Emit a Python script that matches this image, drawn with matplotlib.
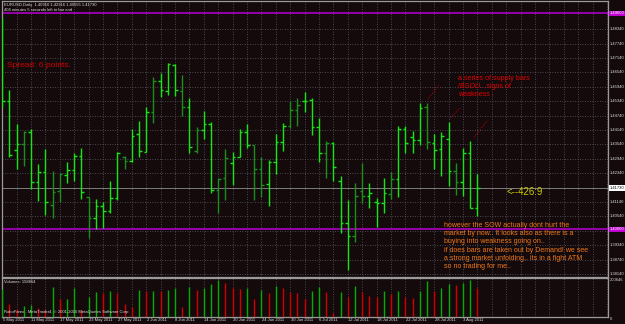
import matplotlib.pyplot as plt

# EURUSD daily bars, 5 May 2011 .. 5 Aug 2011
opens = [1.4830, 1.4537, 1.4330, 1.4356, 1.4405, 1.4196, 1.4238, 1.4100, 1.4160, 1.4227,
         1.4247, 1.4306, 1.4137, 1.4046, 1.4098, 1.4078, 1.4132, 1.4303, 1.4285, 1.4396,
         1.4324, 1.4488, 1.4617, 1.4577, 1.4685, 1.4577, 1.4509, 1.4328, 1.4414, 1.4439,
         1.4164, 1.4213, 1.4276, 1.4301, 1.4405, 1.4352, 1.4251, 1.4188, 1.4282, 1.4366,
         1.4431, 1.4498, 1.4535, 1.4539, 1.4426, 1.4317, 1.4359, 1.4202, 1.4026, 1.3973,
         1.4160, 1.4139, 1.4114, 1.4109, 1.4148, 1.4211, 1.4418, 1.4384, 1.4373, 1.4510,
         1.4361, 1.4335, 1.4376, 1.4245, 1.4199, 1.4317, 1.4091]
highs = [1.4880, 1.4583, 1.4438, 1.4410, 1.4418, 1.4271, 1.4334, 1.4243, 1.4234, 1.4282,
         1.4320, 1.4341, 1.4137, 1.4128, 1.4114, 1.4202, 1.4321, 1.4306, 1.4417, 1.4453,
         1.4512, 1.4636, 1.4653, 1.4692, 1.4688, 1.4643, 1.4546, 1.4428, 1.4494, 1.4446,
         1.4213, 1.4334, 1.4324, 1.4418, 1.4438, 1.4352, 1.4301, 1.4289, 1.4397, 1.4445,
         1.4535, 1.4546, 1.4574, 1.4549, 1.4463, 1.4369, 1.4363, 1.4223, 1.4123, 1.4192,
         1.4276, 1.4195, 1.4130, 1.4213, 1.4241, 1.4431, 1.4432, 1.4412, 1.4528, 1.4528,
         1.4396, 1.4407, 1.4446, 1.4278, 1.4338, 1.4369, 1.42316]
lows = [1.4510, 1.4303, 1.4252, 1.4266, 1.4167, 1.4119, 1.4060, 1.4046, 1.4116, 1.4192,
        1.4202, 1.4127, 1.3966, 1.4001, 1.4007, 1.4067, 1.4123, 1.4253, 1.4280, 1.4303,
        1.4321, 1.4445, 1.4553, 1.4560, 1.4556, 1.4473, 1.4320, 1.4317, 1.4376, 1.4153,
        1.4070, 1.4122, 1.4185, 1.4301, 1.4338, 1.4123, 1.4136, 1.4098, 1.4231, 1.4327,
        1.4424, 1.4432, 1.4491, 1.4394, 1.4282, 1.4216, 1.4202, 1.3984, 1.3831, 1.3949,
        1.4111, 1.4088, 1.4012, 1.4067, 1.4127, 1.4134, 1.4320, 1.4320, 1.4352, 1.4335,
        1.4251, 1.4224, 1.4181, 1.4144, 1.4139, 1.4088, 1.40555]
closes = [1.4537, 1.4312, 1.4356, 1.4406, 1.4196, 1.4238, 1.4114, 1.4155, 1.4230, 1.4247,
          1.4306, 1.4155, 1.4046, 1.4098, 1.4078, 1.4130, 1.4317, 1.4285, 1.4389, 1.4327,
          1.4488, 1.4619, 1.4580, 1.4688, 1.4580, 1.4511, 1.4345, 1.4414, 1.4439, 1.4164,
          1.4210, 1.4297, 1.4301, 1.4405, 1.4352, 1.4251, 1.4185, 1.4282, 1.4366, 1.4431,
          1.4498, 1.4519, 1.4535, 1.4426, 1.4317, 1.4359, 1.4261, 1.4026, 1.3973, 1.4139,
          1.4139, 1.4150, 1.4109, 1.4150, 1.4211, 1.4418, 1.4359, 1.4373, 1.4505, 1.4365,
          1.4331, 1.4390, 1.4245, 1.4199, 1.4317, 1.4091, 1.4173]
volumes = [150000, 68700, 40000, 57700, 63200, 45000, 35700, 160500, 94500, 96200,
           155000, 35700, 108800, 133000, 130000, 140200, 127500, 68700, 50000, 145700,
           140200, 142000, 139000, 145700, 158300, 50600, 160500, 145700, 155000, 177000,
           200600, 182500, 155000, 151200, 155000, 94500, 145700, 127500, 167700, 155000,
           136300, 130800, 94500, 140200, 160500, 133000, 20900, 136300, 108800, 167700,
           136300, 112700, 105500, 140200, 123700, 140200, 108800, 100000, 140200, 195100,
           140200, 155000, 177000, 173200, 182500, 200600, 158864]
dark_bars = [3, 7, 8, 12, 17, 21, 25, 27, 30, 31, 35, 36, 40, 41, 45, 49, 50, 54, 59, 63]

date_idx = [0, 4, 8, 12, 16, 20, 24, 28, 32, 36, 40, 44, 48, 52, 56, 60, 64]
date_labels = ["5 May 2011", "11 May 2011", "17 May 2011", "23 May 2011", "27 May 2011",
               "2 Jun 2011", "8 Jun 2011", "14 Jun 2011", "20 Jun 2011", "24 Jun 2011",
               "30 Jun 2011", "6 Jul 2011", "12 Jul 2011", "18 Jul 2011", "22 Jul 2011",
               "28 Jul 2011", "3 Aug 2011"]

grid_prices = [1.48340 - 0.006 * k for k in range(18)]
level_hi, level_lo = 1.4900, 1.4000
last_price = 1.41730
vol_max = 200646

plt.rcParams['font.family'] = ['Liberation Sans', 'DejaVu Sans']
BG = '#140a0c'
BORDER = '#9a9a9a'
GRIDC = '#5a5e66'
TXT = '#dcdcdc'
SMALL = 3.0

W, H = 625, 324
fig = plt.figure(figsize=(W / 100, H / 100), dpi=100, facecolor=BG)
ax = fig.add_axes([2 / W, 1 - 277 / H, 606 / W, 276 / H], facecolor=BG)
axv = fig.add_axes([2 / W, 1 - 316.5 / H, 606 / W, 38.5 / H], facecolor=BG)

xl = (-0.04, 84.13)
for a in (ax, axv):
    a.set_xlim(*xl)
    a.set_xticks([])
    a.set_yticks([])
    for s in a.spines.values():
        s.set_color(BORDER)
        s.set_linewidth(0.9)
ax.set_ylim(1.38018, 1.49519)
axv.set_ylim(0, 211600)

# grid
for k in range(0, 85, 2):
    ax.axvline(k, color=GRIDC, lw=0.6, ls=(0, (1, 2)), zorder=0)
    axv.axvline(k, color=GRIDC, lw=0.6, ls=(0, (1, 2)), zorder=0)
for p in grid_prices:
    ax.axhline(p, color=GRIDC, lw=0.6, ls=(0, (1, 2)), zorder=0)

# levels
ax.axhline(level_hi, color='#a000b4', lw=1.3, zorder=2)
ax.axhline(level_lo, color='#a000b4', lw=1.3, zorder=2)
ax.axhline(last_price, color='#8a8a8a', lw=0.6, zorder=1)

# price bars
n = len(opens)
idx = list(range(n))
bright = [i for i in idx if i not in dark_bars]
for group, col in ((bright, '#14e614'), (dark_bars, '#1b8f1b')):
    ax.vlines(group, [lows[i] for i in group], [highs[i] for i in group], color=col, lw=1.0, zorder=3)
    ax.hlines([opens[i] for i in group], [i - 0.36 for i in group], group, color=col, lw=1.0, zorder=3)
    ax.hlines([closes[i] for i in group], group, [i + 0.36 for i in group], color=col, lw=1.0, zorder=3)

# volumes
vcol = ['#00b000'] + ['#00b000' if volumes[i] > volumes[i - 1] else '#d00000' for i in range(1, n)]
axv.vlines(idx, 0, volumes, colors=vcol, lw=1.0, zorder=3)

# right price scale
ty = ax.get_yaxis_transform()
for p in grid_prices:
    if abs(p - last_price) < 0.003 or abs(p - level_lo) < 0.003 or abs(p - level_hi) < 0.003:
        continue
    ax.text(1.003, p, f"{p:.5f}", transform=ty, color=TXT, fontsize=SMALL, va='center', ha='left')
for p, fc, tc in ((level_hi, '#c000d0', 'white'), (level_lo, '#c000d0', 'white'), (last_price, 'white', 'black')):
    ax.text(1.003, p, f"{p:.5f}", transform=ty, color=tc, fontsize=SMALL, va='center', ha='left',
            bbox=dict(boxstyle='square,pad=0.2', fc=fc, ec='none'))
axv.text(1.003, vol_max, str(vol_max), transform=axv.get_yaxis_transform(), color=TXT,
         fontsize=SMALL, va='center', ha='left')
axv.text(1.003, 0, "0", transform=axv.get_yaxis_transform(), color=TXT,
         fontsize=SMALL, va='top', ha='left')

# dates
tx = axv.get_xaxis_transform()
for i, lab in zip(date_idx, date_labels):
    axv.text(i + 0.05, -0.1, lab, transform=tx, color=TXT, fontsize=SMALL, va='center', ha='left')

# header texts
ax.text(0.003, 0.986, "EURUSD,Daily  1.40910 1.42316 1.40555 1.41730", transform=ax.transAxes,
        color=TXT, fontsize=SMALL, va='center', ha='left')
ax.text(0.003, 0.968, "404 minutes 5 seconds left to bar end", transform=ax.transAxes,
        color=TXT, fontsize=SMALL, va='center', ha='left')
axv.text(0.003, 0.9, "Volumes: 158864", transform=axv.transAxes, color=TXT, fontsize=SMALL,
         va='center', ha='left')
axv.text(0.003, 0.12, "RoboForex - MetaTrader4, \u00a9 2001-2010 MetaQuotes Software Corp.",
         transform=axv.transAxes, color=TXT, fontsize=SMALL, va='center', ha='left')

# annotations
ax.text(0.6, 1.4684, "Spread: 6 points.", color='#d00000', fontsize=6.0, va='center', ha='left')
ax.text(63.3, 1.4594, "a series of supply bars\n/BSOU.. signs of\nweakness .", color='#e00000',
        fontsize=5.1, va='center', ha='left', linespacing=1.19)
ax.text(70.0, 1.4156, "<--426:9", color='#cccc00', fontsize=6.9, va='center', ha='left')
ax.text(61.3, 1.3931,
        "however the SOW actually dont hurt the\n"
        "market by now.. It looks also as there is a\n"
        "buying into weakness going on..\n"
        "if does bars are taken out by Demand! we see\n"
        "a strong market unfolding.. its in a fight ATM\n"
        "so no trading for me..",
        color='#f07818', fontsize=5.0, va='center', ha='left', linespacing=1.21)
for (x0, y0), (x1, y1) in (((59.1, 1.4542), (60.6, 1.4600)),
                           ((62.3, 1.4467), (63.7, 1.4509)),
                           ((65.5, 1.4384), (67.3, 1.4451))):
    ax.plot([x0, x1], [y0, y1], color='#c00000', lw=0.7, ls=(0, (1, 1.5)), zorder=4)

fig.savefig("out.png", dpi=100, facecolor=BG)
